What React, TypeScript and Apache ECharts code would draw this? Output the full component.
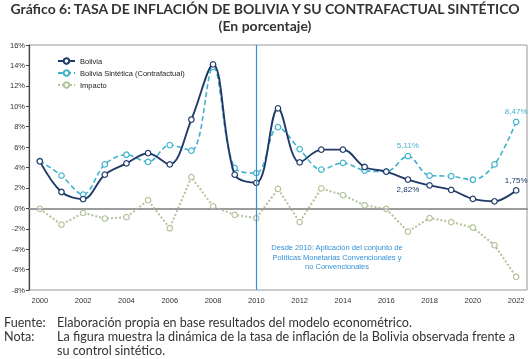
import React, { useEffect, useRef } from "react";
import * as echarts from "echarts";

const years = ["2000","2001","2002","2003","2004","2005","2006","2007","2008","2009","2010","2011","2012","2013","2014","2015","2016","2017","2018","2019","2020","2021","2022"];
const bolivia = [4.6, 1.6, 0.9, 3.3, 4.4, 5.4, 4.3, 8.7, 14.1, 3.3, 2.5, 9.8, 4.5, 5.75, 5.75, 4.05, 3.6, 2.82, 2.25, 1.8, 0.92, 0.69, 1.75];
const sintetica = [4.65, 3.2, 1.35, 4.3, 5.25, 4.55, 6.2, 5.65, 13.85, 3.95, 3.45, 7.95, 5.8, 3.8, 4.45, 3.7, 3.6, 5.11, 3.2, 3.15, 2.8, 4.3, 8.47];
const impacto = [-0.05, -1.6, -0.45, -1.0, -0.87, 0.8, -1.95, 3.05, 0.2, -0.65, -0.95, 1.9, -1.35, 1.95, 1.3, 0.3, -0.05, -2.29, -0.95, -1.35, -1.88, -3.61, -6.72];
const boliviaLabels: Record<string, [string, string]> = { "2017": ["2,82%", "bottom"], "2022": ["1,75%", "top"] };
const sinteticaLabels: Record<string, [string, string]> = { "2017": ["5,11%", "top"], "2022": ["8,47%", "top"] };
const footerKeys = ["Fuente:", "Nota:", ""];
const footerLines = [
  "Elaboración propia en base resultados del modelo econométrico.",
  "La figura muestra la dinámica de la tasa de inflación de la Bolivia observada frente a",
  "su control sintético.",
];

const NAVY = "#1f3a68";
const CYAN = "#3fb2cc";
const SAGE = "#b3c39a";
const VBLUE = "#3390d8";

export default function App() {
  const ref = useRef<HTMLDivElement>(null);
  useEffect(() => {
    if (!ref.current) return;
    const chart = echarts.init(ref.current, null, { renderer: "svg" });
    const mk = (vals: number[], labels: Record<string, [string, string]>, color: string) =>
      vals.map((v, i) => {
        const lab = labels[years[i]];
        if (!lab) return v;
        return {
          value: v,
          label: { show: true, position: lab[1], formatter: lab[0], color, fontSize: 8, fontFamily: "Liberation Sans", distance: 3 },
        };
      });
    const footer: any[] = [];
    footerLines.forEach((t, i) => {
      const y = 322 + i * 14;
      if (footerKeys[i]) {
        footer.push({
          type: "text", x: 4, y,
          style: { text: footerKeys[i], fontSize: 12.6, fontFamily: "Lato", fill: "#333", verticalAlign: "middle" },
        });
      }
      footer.push({
        type: "text", x: 57, y,
        style: { text: t, fontSize: 12.6, fontFamily: "Lato", fill: "#333", verticalAlign: "middle" },
      });
    });
    chart.setOption({
      animation: false,
      textStyle: { fontFamily: "Liberation Sans" },
      title: {
        text: "Gráfico 6: TASA DE INFLACIÓN DE BOLIVIA Y SU CONTRAFACTUAL SINTÉTICO\n(En porcentaje)",
        left: "center",
        top: -5,
        textStyle: { fontFamily: "Lato", fontWeight: "bold", fontSize: 14, color: "#333", lineHeight: 17, align: "center" },
      },
      legend: {
        orient: "vertical",
        left: 52,
        top: 52,
        itemWidth: 17,
        itemHeight: 7,
        itemGap: 4,
        textStyle: { fontSize: 7.5, color: "#222", fontFamily: "Liberation Sans" },
        data: ["Bolivia", "Bolivia Sintética (Contrafactual)", "Impacto"],
      },
      grid: { left: 29, right: 3, top: 45, bottom: 69, show: true, borderColor: "#999", borderWidth: 1 },
      xAxis: {
        type: "category",
        data: years,
        boundaryGap: true,
        axisLine: { lineStyle: { color: "#555", width: 1.5 } },
        axisTick: { interval: 0, inside: true, length: 4, lineStyle: { color: "#555" } },
        axisLabel: { interval: 1, fontSize: 7.5, color: "#333", margin: 6 },
        splitLine: { show: false },
      },
      yAxis: {
        type: "value",
        min: -8,
        max: 16,
        interval: 2,
        axisLine: { show: true, lineStyle: { color: "#444", width: 1.2 } },
        axisTick: { show: true, length: 3, lineStyle: { color: "#444" } },
        axisLabel: { formatter: (v: number) => `${v}%`, fontSize: 7.5, color: "#333", margin: 4 },
        splitLine: { show: false },
      },
      graphic: [
        ...footer,
        {
          type: "text",
          x: 337,
          y: 243,
          style: {
            text: "Desde 2010: Aplicación del conjunto de\nPolíticas Monetarias Convencionales y\nno Convencionales",
            fontSize: 7.5,
            lineHeight: 9.5,
            fontFamily: "Liberation Sans",
            fill: VBLUE,
            align: "center",
          },
        },
      ],
      series: [
        {
          name: "Impacto",
          type: "line",
          data: impacto,
          symbol: "circle",
          symbolSize: 5.5,
          itemStyle: { color: "#fff", borderColor: SAGE, borderWidth: 1.2 },
          lineStyle: { color: SAGE, width: 2, type: "dotted" },
          z: 2,
          markLine: {
            silent: true,
            symbol: "none",
            label: { show: false },
            data: [{ yAxis: 0, lineStyle: { color: "#a6a6a6", width: 1.5, type: "solid" } }],
          },
        },
        {
          name: "Bolivia Sintética (Contrafactual)",
          type: "line",
          data: mk(sintetica, sinteticaLabels, CYAN),
          smooth: 0.35,
          symbol: "circle",
          symbolSize: 5.5,
          itemStyle: { color: "#fff", borderColor: CYAN, borderWidth: 1.2 },
          lineStyle: { color: CYAN, width: 1.6, type: [5, 3] },
          z: 3,
        },
        {
          name: "Bolivia",
          type: "line",
          data: mk(bolivia, boliviaLabels, NAVY),
          smooth: 0.35,
          symbol: "circle",
          symbolSize: 5.5,
          itemStyle: { color: "#fff", borderColor: NAVY, borderWidth: 1.2 },
          lineStyle: { color: NAVY, width: 1.9 },
          z: 4,
          markLine: {
            silent: true,
            symbol: "none",
            label: { show: false },
            z: 10,
            data: [{ xAxis: "2010", lineStyle: { color: VBLUE, width: 1.2, type: "solid" } }],
          },
        },
      ],
    });
    return () => chart.dispose();
  }, []);
  return <div ref={ref} style={{ position: "fixed", left: 0, top: 0, width: 530, height: 359 }} />;
}
